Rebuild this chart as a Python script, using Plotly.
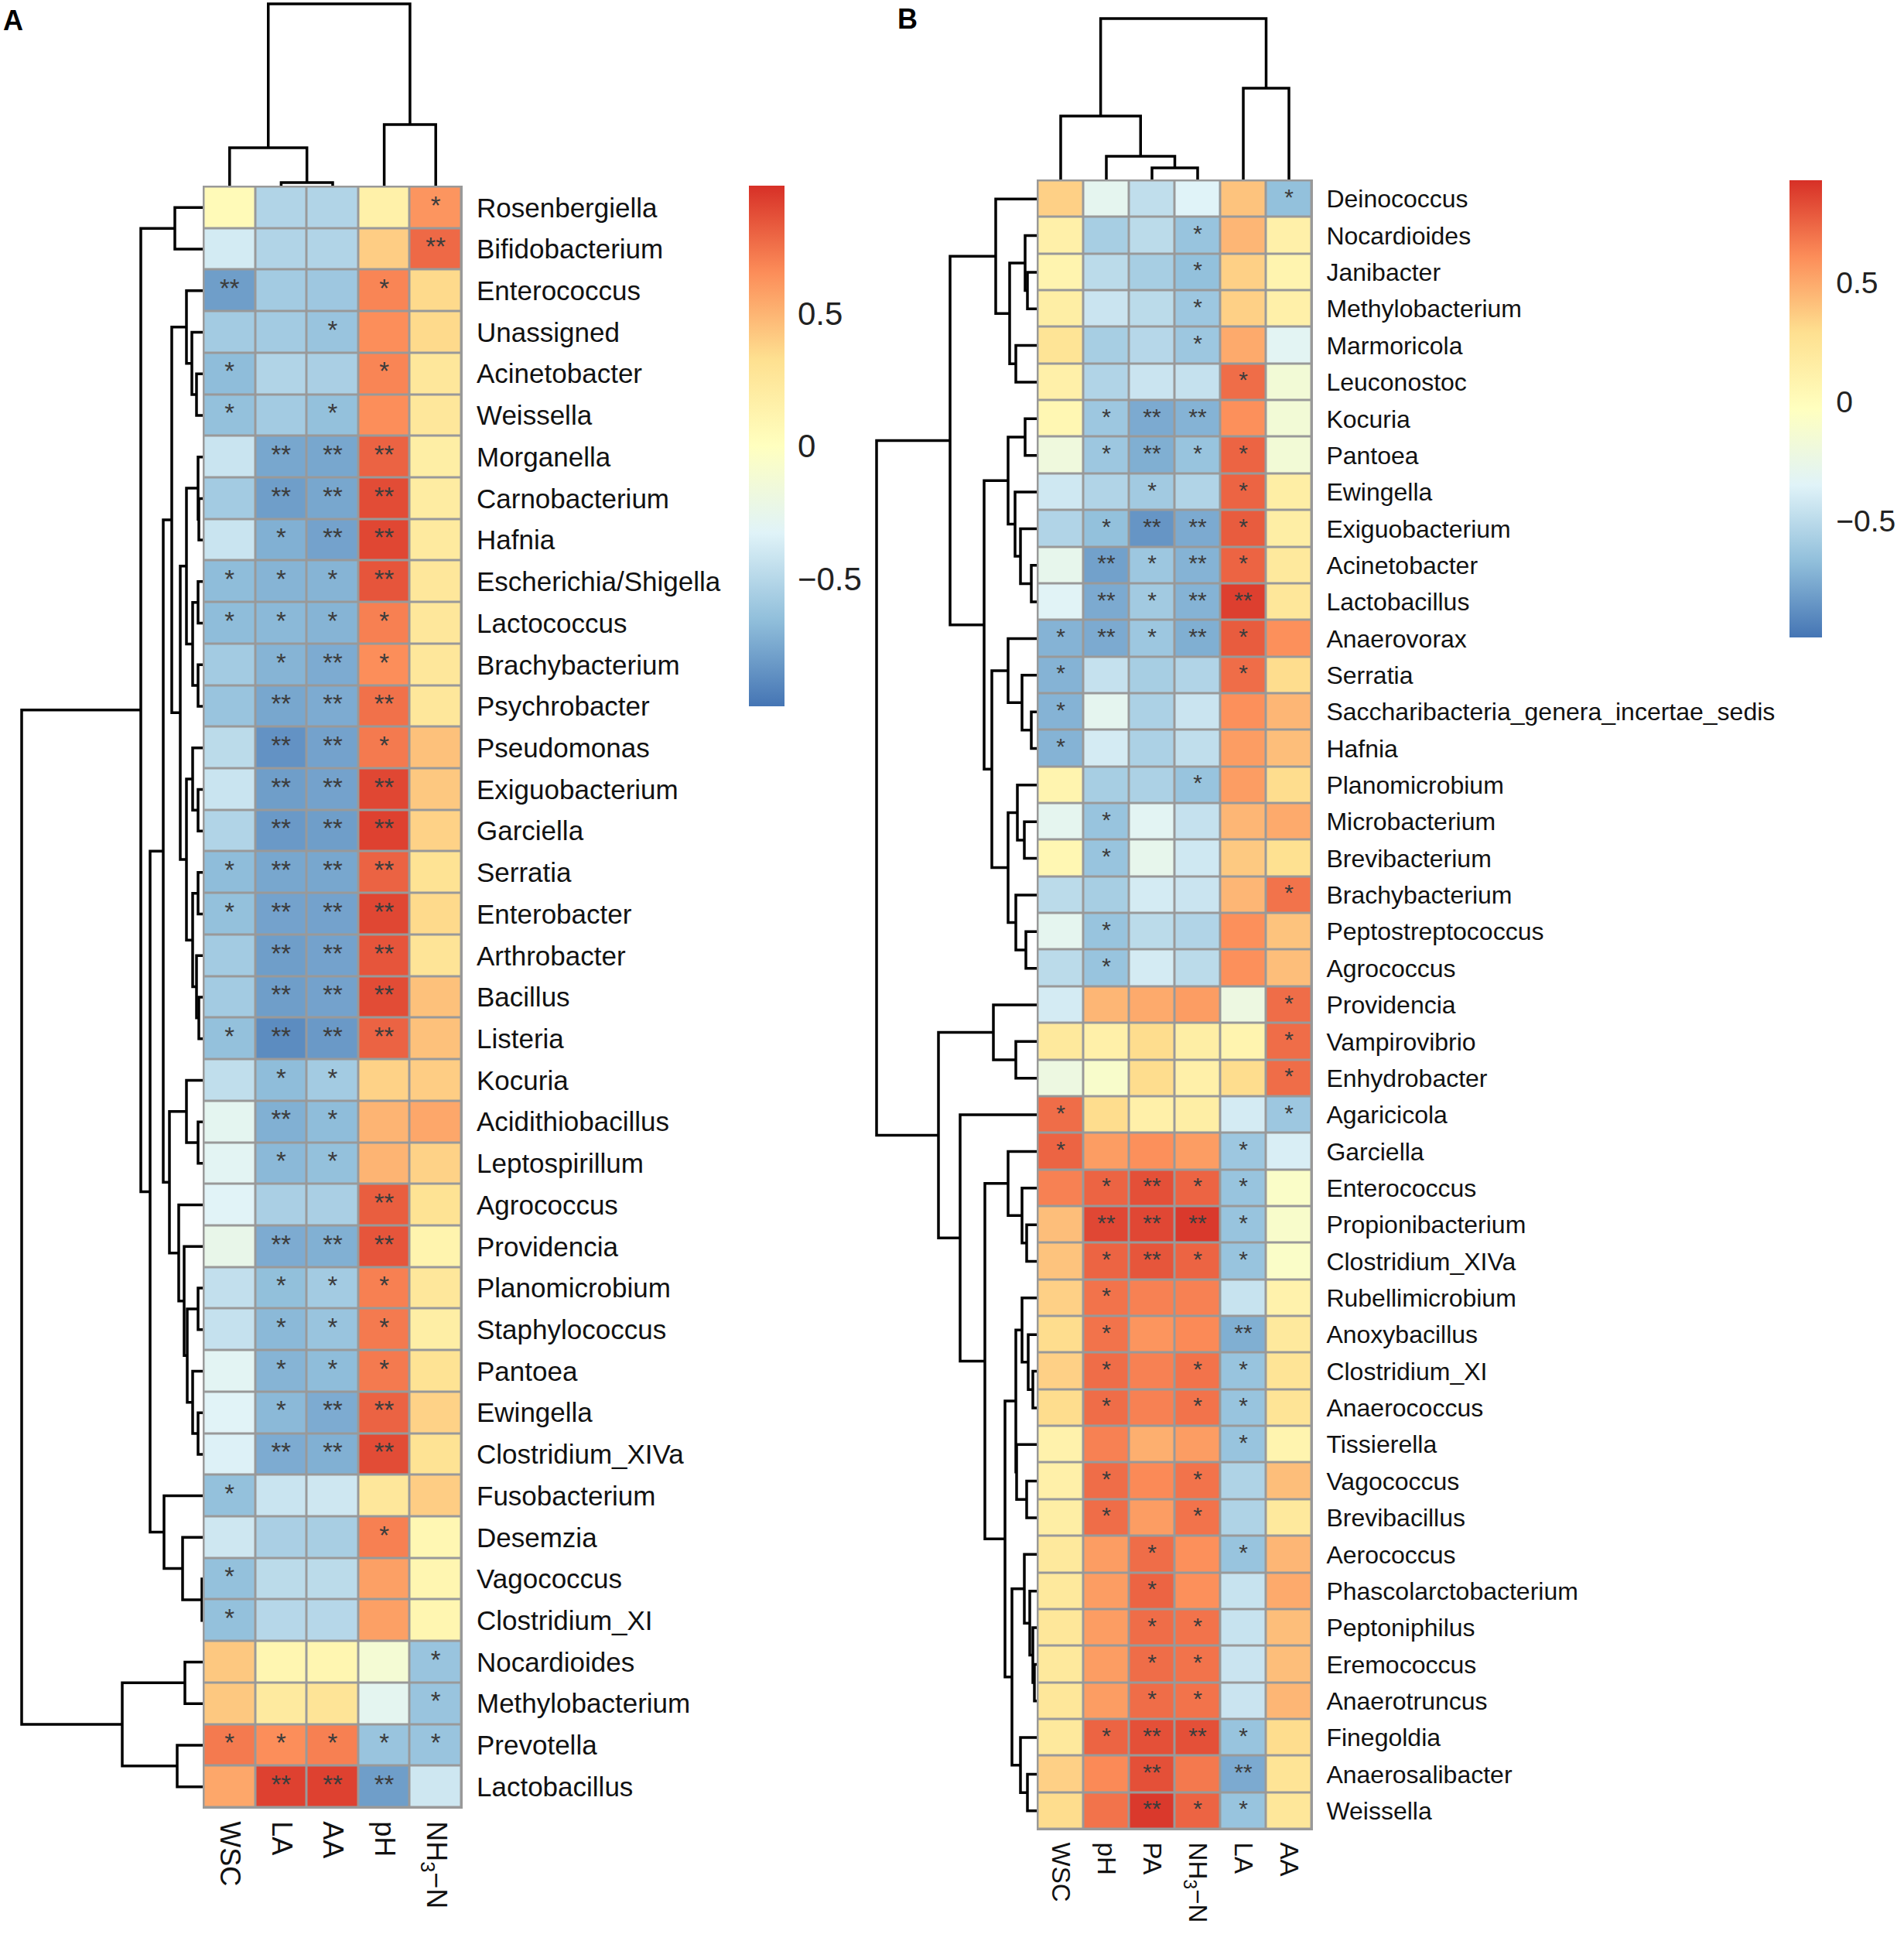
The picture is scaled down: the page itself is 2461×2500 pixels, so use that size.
import plotly.graph_objects as go

W, H = 2461, 2500

# ---------------- Panel A data ----------------
A_rows = ["Rosenbergiella", "Bifidobacterium", "Enterococcus", "Unassigned", "Acinetobacter",
          "Weissella", "Morganella", "Carnobacterium", "Hafnia", "Escherichia/Shigella",
          "Lactococcus", "Brachybacterium", "Psychrobacter", "Pseudomonas", "Exiguobacterium",
          "Garciella", "Serratia", "Enterobacter", "Arthrobacter", "Bacillus", "Listeria",
          "Kocuria", "Acidithiobacillus", "Leptospirillum", "Agrococcus", "Providencia",
          "Planomicrobium", "Staphylococcus", "Pantoea", "Ewingella", "Clostridium_XIVa",
          "Fusobacterium", "Desemzia", "Vagococcus", "Clostridium_XI", "Nocardioides",
          "Methylobacterium", "Prevotella", "Lactobacillus"]
A_cols = ["WSC", "LA", "AA", "pH", "NH<sub>3</sub>−N"]
A_values = [
    [0.05, -0.52, -0.52, 0.15, 0.62],
    [-0.38, -0.52, -0.52, 0.40, 0.78],
    [-0.80, -0.58, -0.60, 0.68, 0.35],
    [-0.58, -0.58, -0.62, 0.65, 0.35],
    [-0.66, -0.52, -0.55, 0.68, 0.25],
    [-0.64, -0.58, -0.64, 0.65, 0.25],
    [-0.42, -0.76, -0.76, 0.80, 0.18],
    [-0.58, -0.80, -0.76, 0.88, 0.20],
    [-0.42, -0.72, -0.78, 0.90, 0.22],
    [-0.66, -0.70, -0.70, 0.85, 0.25],
    [-0.66, -0.68, -0.70, 0.70, 0.25],
    [-0.58, -0.70, -0.74, 0.65, 0.25],
    [-0.62, -0.76, -0.74, 0.75, 0.25],
    [-0.48, -0.85, -0.78, 0.72, 0.45],
    [-0.42, -0.80, -0.78, 0.90, 0.42],
    [-0.52, -0.82, -0.80, 0.92, 0.38],
    [-0.66, -0.76, -0.76, 0.80, 0.30],
    [-0.64, -0.78, -0.78, 0.90, 0.35],
    [-0.58, -0.80, -0.78, 0.85, 0.28],
    [-0.58, -0.80, -0.78, 0.88, 0.45],
    [-0.64, -0.88, -0.82, 0.80, 0.45],
    [-0.46, -0.66, -0.58, 0.38, 0.40],
    [-0.28, -0.72, -0.66, 0.50, 0.55],
    [-0.30, -0.68, -0.64, 0.50, 0.38],
    [-0.32, -0.55, -0.55, 0.82, 0.30],
    [-0.24, -0.74, -0.72, 0.85, 0.12],
    [-0.45, -0.65, -0.58, 0.70, 0.25],
    [-0.44, -0.68, -0.62, 0.72, 0.18],
    [-0.30, -0.70, -0.66, 0.72, 0.30],
    [-0.32, -0.68, -0.74, 0.80, 0.38],
    [-0.34, -0.74, -0.72, 0.88, 0.30],
    [-0.64, -0.42, -0.40, 0.25, 0.40],
    [-0.40, -0.55, -0.56, 0.70, 0.08],
    [-0.64, -0.48, -0.48, 0.58, 0.10],
    [-0.64, -0.50, -0.50, 0.58, 0.10],
    [0.42, 0.10, 0.10, -0.12, -0.62],
    [0.42, 0.22, 0.28, -0.28, -0.62],
    [0.72, 0.65, 0.70, -0.62, -0.62],
    [0.55, 0.92, 0.92, -0.80, -0.40],
]
A_sig = [
    ["", "", "", "", "*"], ["", "", "", "", "**"], ["**", "", "", "*", ""], ["", "", "*", "", ""],
    ["*", "", "", "*", ""], ["*", "", "*", "", ""], ["", "**", "**", "**", ""], ["", "**", "**", "**", ""],
    ["", "*", "**", "**", ""], ["*", "*", "*", "**", ""], ["*", "*", "*", "*", ""], ["", "*", "**", "*", ""],
    ["", "**", "**", "**", ""], ["", "**", "**", "*", ""], ["", "**", "**", "**", ""], ["", "**", "**", "**", ""],
    ["*", "**", "**", "**", ""], ["*", "**", "**", "**", ""], ["", "**", "**", "**", ""], ["", "**", "**", "**", ""],
    ["*", "**", "**", "**", ""], ["", "*", "*", "", ""], ["", "**", "*", "", ""], ["", "*", "*", "", ""],
    ["", "", "", "**", ""], ["", "**", "**", "**", ""], ["", "*", "*", "*", ""], ["", "*", "*", "*", ""],
    ["", "*", "*", "*", ""], ["", "*", "**", "**", ""], ["", "**", "**", "**", ""], ["*", "", "", "", ""],
    ["", "", "", "*", ""], ["*", "", "", "", ""], ["*", "", "", "", ""], ["", "", "", "", "*"],
    ["", "", "", "", "*"], ["*", "*", "*", "*", "*"], ["", "**", "**", "**", ""],
]
A_range = [-0.98, 0.98]
# dendrograms: (height, left, right); leaves are row / column indices
A_row_tree = (234,
    (80,
        (36, 0, 1),
        (68,
            (51,
                (40,
                    (21, 2, (14, 3, (8, 4, 5))),
                    (29,
                        (21, (6, 6, (5, 7, 8)), (13, (6, 9, 10), (6, 11, 12))),
                        (21, (13, 13, (6, 14, 15)), (13, (6, 16, 17), (8, 18, (5, 19, 20)))))),
                (43,
                    (21, 21, (6, 22, 23)),
                    (31, 24, (24, 25, (20, (6, 26, 27), (13, 28, (6, 29, 30))))))),
            (50, 31, (26, 32, (1, 33, 34))))),
    (104, (23, 35, 36), (33, 37, 38)))
A_col_tree = (235, (49, 0, (4, 1, 2)), (79, 3, 4))

# ---------------- Panel B data ----------------
B_rows = ["Deinococcus", "Nocardioides", "Janibacter", "Methylobacterium", "Marmoricola",
          "Leuconostoc", "Kocuria", "Pantoea", "Ewingella", "Exiguobacterium", "Acinetobacter",
          "Lactobacillus", "Anaerovorax", "Serratia", "Saccharibacteria_genera_incertae_sedis",
          "Hafnia", "Planomicrobium", "Microbacterium", "Brevibacterium", "Brachybacterium",
          "Peptostreptococcus", "Agrococcus", "Providencia", "Vampirovibrio", "Enhydrobacter",
          "Agaricicola", "Garciella", "Enterococcus", "Propionibacterium", "Clostridium_XIVa",
          "Rubellimicrobium", "Anoxybacillus", "Clostridium_XI", "Anaerococcus", "Tissierella",
          "Vagococcus", "Brevibacillus", "Aerococcus", "Phascolarctobacterium", "Peptoniphilus",
          "Eremococcus", "Anaerotruncus", "Finegoldia", "Anaerosalibacter", "Weissella"]
B_cols = ["WSC", "pH", "PA", "NH<sub>3</sub>−N", "LA", "AA"]
B_values = [
    [0.35, -0.30, -0.48, -0.35, 0.40, -0.66],
    [0.12, -0.58, -0.50, -0.64, 0.45, 0.12],
    [0.08, -0.50, -0.58, -0.66, 0.35, 0.08],
    [0.15, -0.44, -0.50, -0.62, 0.35, 0.12],
    [0.25, -0.58, -0.52, -0.62, 0.50, -0.32],
    [0.12, -0.54, -0.44, -0.46, 0.72, -0.16],
    [0.05, -0.62, -0.76, -0.72, 0.60, -0.16],
    [-0.20, -0.62, -0.74, -0.64, 0.75, -0.16],
    [-0.42, -0.54, -0.60, -0.54, 0.75, 0.15],
    [-0.54, -0.66, -0.85, -0.76, 0.78, 0.15],
    [-0.28, -0.80, -0.62, -0.72, 0.75, 0.20],
    [-0.34, -0.76, -0.60, -0.72, 0.88, 0.22],
    [-0.72, -0.76, -0.62, -0.74, 0.78, 0.60],
    [-0.72, -0.46, -0.58, -0.54, 0.72, 0.30],
    [-0.72, -0.30, -0.56, -0.44, 0.60, 0.45],
    [-0.72, -0.40, -0.56, -0.48, 0.55, 0.42],
    [0.08, -0.58, -0.56, -0.64, 0.55, 0.30],
    [-0.30, -0.64, -0.32, -0.46, 0.45, 0.50],
    [0.05, -0.64, -0.28, -0.42, 0.38, 0.28],
    [-0.50, -0.58, -0.40, -0.44, 0.45, 0.70],
    [-0.30, -0.64, -0.50, -0.54, 0.60, 0.40],
    [-0.50, -0.64, -0.40, -0.50, 0.60, 0.42],
    [-0.40, 0.45, 0.50, 0.55, -0.22, 0.72],
    [0.20, 0.12, 0.30, 0.15, 0.08, 0.72],
    [-0.22, -0.10, 0.30, 0.12, 0.30, 0.72],
    [0.72, 0.30, 0.12, 0.15, -0.40, -0.62],
    [0.75, 0.55, 0.60, 0.55, -0.62, -0.38],
    [0.65, 0.75, 0.82, 0.75, -0.64, -0.08],
    [0.42, 0.85, 0.85, 0.90, -0.64, -0.10],
    [0.40, 0.75, 0.80, 0.75, -0.64, -0.08],
    [0.35, 0.70, 0.65, 0.65, -0.45, 0.10],
    [0.30, 0.70, 0.58, 0.62, -0.74, 0.20],
    [0.35, 0.72, 0.65, 0.70, -0.64, 0.25],
    [0.30, 0.72, 0.65, 0.70, -0.64, 0.25],
    [0.10, 0.65, 0.48, 0.55, -0.64, 0.08],
    [0.12, 0.72, 0.62, 0.70, -0.55, 0.42],
    [0.15, 0.72, 0.55, 0.70, -0.55, 0.20],
    [0.20, 0.55, 0.72, 0.60, -0.64, 0.45],
    [0.20, 0.55, 0.75, 0.60, -0.45, 0.50],
    [0.22, 0.55, 0.72, 0.70, -0.45, 0.42],
    [0.20, 0.55, 0.72, 0.70, -0.44, 0.42],
    [0.22, 0.55, 0.72, 0.70, -0.44, 0.45],
    [0.20, 0.75, 0.82, 0.82, -0.64, 0.30],
    [0.35, 0.62, 0.82, 0.68, -0.76, 0.25],
    [0.30, 0.70, 0.90, 0.75, -0.64, 0.22],
]
B_sig = [
    ["", "", "", "", "", "*"], ["", "", "", "*", "", ""], ["", "", "", "*", "", ""], ["", "", "", "*", "", ""],
    ["", "", "", "*", "", ""], ["", "", "", "", "*", ""], ["", "*", "**", "**", "", ""], ["", "*", "**", "*", "*", ""],
    ["", "", "*", "", "*", ""], ["", "*", "**", "**", "*", ""], ["", "**", "*", "**", "*", ""], ["", "**", "*", "**", "**", ""],
    ["*", "**", "*", "**", "*", ""], ["*", "", "", "", "*", ""], ["*", "", "", "", "", ""], ["*", "", "", "", "", ""],
    ["", "", "", "*", "", ""], ["", "*", "", "", "", ""], ["", "*", "", "", "", ""], ["", "", "", "", "", "*"],
    ["", "*", "", "", "", ""], ["", "*", "", "", "", ""], ["", "", "", "", "", "*"], ["", "", "", "", "", "*"],
    ["", "", "", "", "", "*"], ["*", "", "", "", "", "*"], ["*", "", "", "", "*", ""], ["", "*", "**", "*", "*", ""],
    ["", "**", "**", "**", "*", ""], ["", "*", "**", "*", "*", ""], ["", "*", "", "", "", ""], ["", "*", "", "", "**", ""],
    ["", "*", "", "*", "*", ""], ["", "*", "", "*", "*", ""], ["", "", "", "", "*", ""], ["", "*", "", "*", "", ""],
    ["", "*", "", "*", "", ""], ["", "", "*", "", "*", ""], ["", "", "*", "", "", ""], ["", "", "*", "*", "", ""],
    ["", "", "*", "*", "", ""], ["", "", "*", "*", "", ""], ["", "*", "**", "**", "*", ""], ["", "", "**", "", "**", ""],
    ["", "", "**", "*", "*", ""],
]
B_range = [-0.99, 0.93]
B_row_tree = (207,
    (112,
        (53, 0, (35, (15, 1, (12, 2, 3)), (27, 4, 5))),
        (68,
            (37, (15, 6, 7), (28, 8, (21, 9, (7, 10, 11)))),
            (58,
                (37, 12, (19, 13, (7, 14, 15))),
                (37, (25, 16, (16, 17, 18)), (27, 19, (14, 20, 21)))))),
    (127,
        (56, 22, (27, 23, 24)),
        (99, 25,
            (67,
                (37, 26, (19, 27, (13, 28, 29))),
                (41,
                    (27, (19, 30, (11, 31, (5, 32, 33))), (26, 34, (13, 35, 36))),
                    (32, (16, 37, (9, 38, (5, 39, (3, 40, 41)))), (21, 42, (12, 43, 44))))))))
B_col_tree = (208, (82, 0, (30, 1, (15, 2, 3))), (118, 4, 5))

# ---------------- styling ----------------
COLORS = ["#4575B4", "#91BFDB", "#E0F3F8", "#FFFFBF", "#FEE090", "#FC8D59", "#D73027"]
COLORSCALE = [[i / (len(COLORS) - 1), c] for i, c in enumerate(COLORS)]
BORDER = "#999999"
FONT = "Liberation Sans, Arial, sans-serif"


def px_x(p):
    return p / W


def px_y(p):
    return 1 - p / H


def dendro(tree):
    hs, ps = [], []

    def walk(node):
        if isinstance(node, int):
            return float(node), 0.0
        h, left, right = node
        lp, lh = walk(left)
        rp, rh = walk(right)
        hs.extend([lh, h, h, rh, None])
        ps.extend([lp, lp, rp, rp, None])
        return (lp + rp) / 2.0, h

    walk(tree)
    return hs, ps


fig = go.Figure()


def panel(idx, rows, cols, values, sig, zr, row_tree, col_tree, hm_box, rd_box, cd_box,
          label_font, col_font, star_font, cbar, caxis):
    hx, hy = f"x{idx}", f"y{idx}"
    rx, ry = f"x{idx + 1}", f"y{idx + 1}"
    cx, cy = f"x{idx + 2}", f"y{idx + 2}"
    nr, nc = len(rows), len(cols)
    hl, hr, ht, hb = hm_box
    ex = 1.5 / ((hr - hl) / nc)
    ey = 1.5 / ((hb - ht) / nr)
    xr = [-0.5 - ex, nc - 0.5 + ex]
    yr = [nr - 0.5 + ey, -0.5 - ey]

    fig.add_trace(go.Heatmap(z=values, x=list(range(nc)), y=list(range(nr)),
                             coloraxis=caxis, xgap=3, ygap=3, hoverinfo="skip",
                             xaxis=hx, yaxis=hy))
    sx, sy, st = [], [], []
    for i in range(nr):
        for j in range(nc):
            if sig[i][j]:
                sx.append(j)
                sy.append(i)
                st.append(sig[i][j])
    fig.add_trace(go.Scatter(x=sx, y=sy, text=st, mode="text", textposition="middle center",
                             textfont=dict(size=star_font, color="#3c3c3c", family=FONT),
                             hoverinfo="skip", showlegend=False, xaxis=hx, yaxis=hy))
    fig.add_shape(type="rect", xref=hx, yref=hy, x0=xr[0], x1=xr[1], y0=yr[0], y1=yr[1],
                  fillcolor=BORDER, line_width=0, layer="below")

    hs, ps = dendro(row_tree)
    fig.add_trace(go.Scatter(x=hs, y=ps, mode="lines", line=dict(color="black", width=3.5),
                             hoverinfo="skip", showlegend=False, xaxis=rx, yaxis=ry))
    hs, ps = dendro(col_tree)
    fig.add_trace(go.Scatter(x=ps, y=hs, mode="lines", line=dict(color="black", width=3.5),
                             hoverinfo="skip", showlegend=False, xaxis=cx, yaxis=cy))

    hide = dict(showgrid=False, zeroline=False, showticklabels=False, ticks="", showline=False)
    k = lambda a: "xaxis" + a[1:] if a.startswith("x") else "yaxis" + a[1:]
    fig.update_layout(**{
        k(hx): dict(domain=[px_x(hl), px_x(hr)], range=xr, anchor=hy, tickmode="array",
                    tickvals=list(range(nc)), ticktext=cols, tickangle=90, ticks="outside",
                    ticklen=8, tickcolor="rgba(0,0,0,0)", showgrid=False, zeroline=False,
                    showline=False, tickfont=dict(size=col_font, color="#111111", family=FONT)),
        k(hy): dict(domain=[px_y(hb), px_y(ht)], range=yr, anchor=hx, side="right",
                    tickmode="array", tickvals=list(range(nr)), ticktext=rows, ticks="outside",
                    ticklen=10, tickcolor="rgba(0,0,0,0)", showgrid=False, zeroline=False,
                    showline=False, tickfont=dict(size=label_font, color="#111111", family=FONT)),
        k(rx): dict(domain=[px_x(rd_box[0]), px_x(rd_box[1])],
                    range=[rd_box[1] - rd_box[0], 0], anchor=ry, **hide),
        k(ry): dict(domain=[px_y(hb), px_y(ht)], range=yr, anchor=rx, **hide),
        k(cx): dict(domain=[px_x(hl), px_x(hr)], range=xr, anchor=cy, **hide),
        k(cy): dict(domain=[px_y(cd_box[1]), px_y(cd_box[0])],
                    range=[0, cd_box[1] - cd_box[0]], anchor=cx, **hide),
        caxis: dict(colorscale=COLORSCALE, cmin=zr[0], cmax=zr[1], colorbar=cbar),
    })


cbarA = dict(x=px_x(968), xanchor="left", y=px_y(240), yanchor="top", len=673, lenmode="pixels",
             thickness=46, thicknessmode="pixels", xpad=0, ypad=0, outlinewidth=0,
             tickvals=[-0.5, 0, 0.5], ticks="outside", ticklen=9, tickcolor="rgba(0,0,0,0)",
             tickfont=dict(size=42, color="#222222", family=FONT))
cbarB = dict(x=px_x(2313), xanchor="left", y=px_y(233), yanchor="top", len=591, lenmode="pixels",
             thickness=42, thicknessmode="pixels", xpad=0, ypad=0, outlinewidth=0,
             tickvals=[-0.5, 0, 0.5], ticks="outside", ticklen=11, tickcolor="rgba(0,0,0,0)",
             tickfont=dict(size=39, color="#222222", family=FONT))

panel(1, A_rows, A_cols, A_values, A_sig, A_range, A_row_tree, A_col_tree,
      hm_box=(262, 598, 240, 2338), rd_box=(20, 262), cd_box=(0, 240),
      label_font=35, col_font=36, star_font=33, cbar=cbarA, caxis="coloraxis")
panel(4, B_rows, B_cols, B_values, B_sig, B_range, B_row_tree, B_col_tree,
      hm_box=(1340, 1697, 232, 2366), rd_box=(1125, 1340), cd_box=(20, 232),
      label_font=32, col_font=33, star_font=30, cbar=cbarB, caxis="coloraxis2")

fig.add_annotation(text="<b>A</b>", x=px_x(2), y=px_y(4), xref="paper", yref="paper",
                   xanchor="left", yanchor="top", showarrow=False,
                   font=dict(size=36, color="black", family=FONT))
fig.add_annotation(text="<b>B</b>", x=px_x(1158), y=px_y(2), xref="paper", yref="paper",
                   xanchor="left", yanchor="top", showarrow=False,
                   font=dict(size=36, color="black", family=FONT))

fig.update_layout(width=W, height=H, margin=dict(l=0, r=0, t=0, b=0),
                  paper_bgcolor="white", plot_bgcolor="white", showlegend=False,
                  font=dict(family=FONT))

fig.write_html("out.html", config={"displayModeBar": False},
               post_script="document.body.style.margin='0px';")
